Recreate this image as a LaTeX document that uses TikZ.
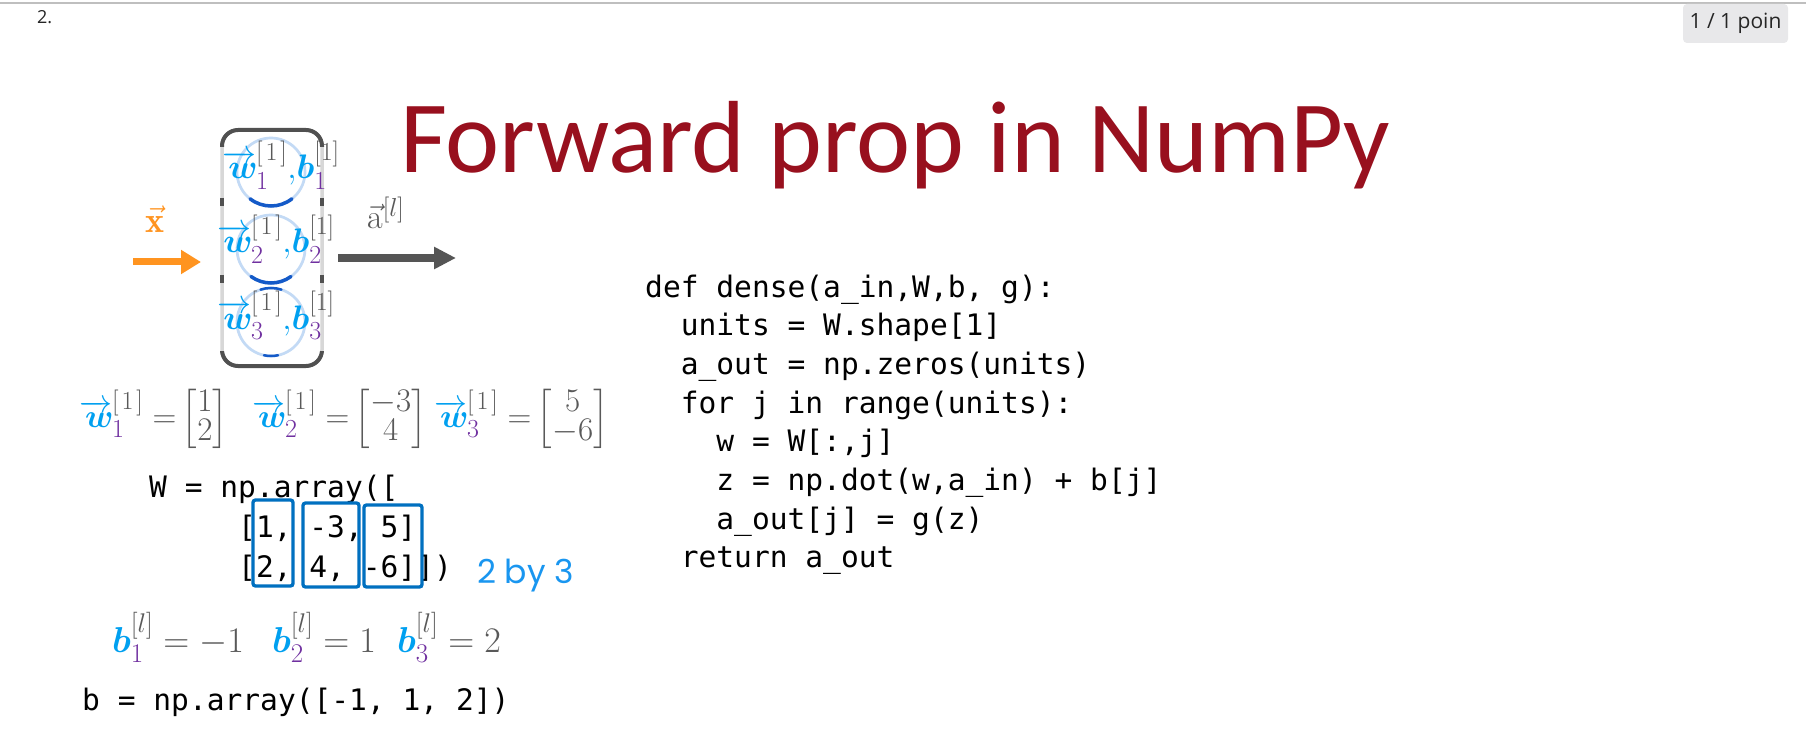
\RequirePackage{fix-cm}
\documentclass[tikz,border=0pt]{standalone}
\usepackage{amsmath,amssymb}
\usepackage{fontspec}
\usepackage{tikz}
\usetikzlibrary{arrows.meta,positioning}
\newfontfamily\titlefont{Carlito}
\newfontfamily\codefont{DejaVu Sans Mono}
\newfontfamily\uifont{Open Sans}
\newfontfamily\handfont{Poppins}
\definecolor{titlered}{RGB}{152,16,30}
\definecolor{wblue}{RGB}{0,160,240}
\definecolor{subpurple}{RGB}{112,48,160}
\definecolor{supgray}{RGB}{89,89,89}
\definecolor{xorange}{RGB}{255,148,32}
\definecolor{arrowgray}{RGB}{85,85,85}
\definecolor{ringblue}{RGB}{195,218,245}
\definecolor{shadeblue}{RGB}{20,90,200}
\definecolor{boxblue}{RGB}{0,112,192}
\definecolor{handblue}{RGB}{25,150,240}
\definecolor{layergray}{RGB}{215,215,215}
\definecolor{edgegray}{RGB}{80,80,80}
\definecolor{badgegray}{RGB}{232,232,234}

\DeclareMathSizes{33}{33}{26}{19}
\DeclareMathSizes{34}{34}{26}{20}
\DeclareMathSizes{36}{36}{27}{21}

\newcommand{\wvec}[1]{\textcolor{wblue}{\overrightarrow{\boldsymbol{w}\mkern-4mu}}_{\textcolor{subpurple}{#1}}^{[\mkern2mu 1\mkern2mu]}}
\newcommand{\bvar}[2]{\textcolor{wblue}{\boldsymbol{b}}_{\textcolor{subpurple}{#1}}^{[#2]}}

\begin{document}
\begin{tikzpicture}[x=1pt, y=1pt,
    unit/.style={circle, draw=ringblue, line width=2.7pt, minimum size=68pt, inner sep=0pt, outer sep=0pt},
    unitlabel/.style={anchor=base west, inner sep=0pt, text=supgray, font=\fontsize{34}{40}\selectfont},
    layerbox/.style={draw=layergray, line width=3.5pt, rounded corners=16pt, minimum width=100pt, minimum height=236pt, inner sep=0pt, outer sep=0pt},
    shadearc/.style={shadeblue, line width=3.5pt, line cap=round},
    inarrow/.style={xorange, line width=7pt, -{Triangle[length=20pt,width=23pt]}},
    outarrow/.style={arrowgray, line width=7.5pt, -{Triangle[length=22pt,width=21pt]}},
    mathrow/.style={anchor=base west, inner sep=0pt, text=supgray, font=\fontsize{33}{24}\selectfont},
    biasrow/.style={anchor=base west, inner sep=0pt, text=supgray, font=\fontsize{36}{38}\selectfont},
    codeline/.style={anchor=base west, inner sep=0pt, font=\codefont\fontsize{29.57}{34}\selectfont},
    colbox/.style={draw=boxblue, line width=3.3pt, rounded corners=2.5pt},
    badge/.style={fill=badgegray, rounded corners=4pt, minimum width=105pt, minimum height=39pt, inner sep=0pt, text=black!85, font=\uifont\fontsize{21}{24}\selectfont}]
\useasboundingbox (0,0) rectangle (1806,-735);
\fill[white] (0,0) rectangle (1806,-735);

% header strip
\draw[black!25, line width=1.5pt] (0,-3) -- (1806,-3);
\node[anchor=base west, inner sep=0pt, text=black!85, font=\uifont\fontsize{18}{20}\selectfont] (qnum) at (37,-24) {2.};
\node[badge] (score) at (1735.5,-23.5) {1 / 1 poin};

\node[anchor=base west, inner sep=0pt, text=titlered, font=\titlefont\fontsize{102.5}{110}\selectfont] (title) at (400,-173) {Forward prop in NumPy};

% layer with three units
\node[layerbox] (layer) at (272,-248) {};
\begin{scope}
  \clip (200,-100) rectangle (345,-147);
  \draw[edgegray, line width=4pt, rounded corners=16pt] (layer.south west) rectangle (layer.north east);
\end{scope}
\begin{scope}
  \clip (200,-351) rectangle (345,-400);
  \draw[edgegray, line width=4pt, rounded corners=16pt] (layer.south west) rectangle (layer.north east);
\end{scope}
\foreach \xx in {222,322}
  \foreach \yy in {198,275}
    \draw[edgegray, line width=4pt] (\xx,-\yy) -- (\xx,-\yy-8);

\foreach \i/\y in {1/172,2/249,3/322}
  \node[unit] (u\i) at (271,-\y) {};
\draw[shadearc] (u1.232) arc[start angle=232, end angle=308, radius=34pt];
\draw[shadearc] (u2.234) arc[start angle=234, end angle=306, radius=34pt];
\draw[shadearc, line width=2.5pt] (u3.72) arc[start angle=72, end angle=108, radius=34pt];
\draw[shadearc, line width=2.5pt] (u3.258) arc[start angle=258, end angle=282, radius=34pt];

\node[unitlabel] (lab1) at (222,-179) {$\wvec{1}\textcolor{wblue}{,}\bvar{1}{1}$};
\node[unitlabel] (lab2) at (217,-253) {$\wvec{2}\textcolor{wblue}{,}\bvar{2}{1}$};
\node[unitlabel] (lab3) at (217,-329) {$\wvec{3}\textcolor{wblue}{,}\bvar{3}{1}$};

% input and output
\node[text=xorange, font=\fontsize{36}{40}\selectfont] (xlab) at (155,-219) {$\vec{\mathbf{x}}$};
\coordinate (xin) at (133,-262);
\coordinate (xtip) at (201,-262);
\draw[inarrow] (xin) -- (xtip);

\node[anchor=base west, inner sep=0pt, text=supgray, font=\fontsize{34}{36}\selectfont] (alab) at (367,-229) {$\vec{\mathrm{a}}^{[l]}$};
\coordinate (aout) at (338,-258);
\coordinate (atip) at (456,-258);
\draw[outarrow] (aout) -- (atip);

% weight vectors
\node[mathrow] (w1) at (79,-427) {$\arraycolsep=2pt\wvec{1} = \mkern-2mu\begin{bmatrix}1\\2\end{bmatrix}$};
\node[mathrow] (w2) at (252,-427) {$\arraycolsep=2pt\wvec{2} = \mkern-2mu\begin{bmatrix}-3\\4\end{bmatrix}$};
\node[mathrow] (w3) at (434,-427) {$\arraycolsep=2pt\wvec{3} = \mkern-2mu\begin{bmatrix}5\\-6\end{bmatrix}$};

% W array
\node[codeline] (warr) at (149,-497) {W = np.array([};
\node[codeline] (wrow1) at (238,-537) {[1, -3, 5]};
\node[codeline] (wrow2) at (238,-577) {[2, 4, -6]])};
\draw[colbox] (253,-500) rectangle (293,-586);
\draw[colbox] (303,-503) rectangle (359,-587);
\draw[colbox] (364,-505) rectangle (422,-587);
\node[anchor=base west, inner sep=0pt, text=handblue, font=\handfont\fontsize{33}{36}\selectfont] (shape) at (477,-583) {2 by 3};

% biases
\node[biasrow] (b1) at (112,-652) {$\bvar{1}{l} = -1$};
\node[biasrow] (b2) at (272,-652) {$\bvar{2}{l} = 1$};
\node[biasrow] (b3) at (397,-652) {$\bvar{3}{l} = 2$};
\node[codeline] (barr) at (82,-710) {b = np.array([-1, 1, 2])};

% dense function
\node[codeline] (c1) at (645,-297) {def dense(a\_in,W,b, g):};
\node[codeline] (c2) at (680.6,-335.7) {units = W.shape[1]};
\node[codeline] (c3) at (680.6,-374.4) {a\_out = np.zeros(units)};
\node[codeline] (c4) at (680.6,-413.1) {for j in range(units):};
\node[codeline] (c5) at (716.2,-451.8) {w = W[:,j]};
\node[codeline] (c6) at (716.2,-490.5) {z = np.dot(w,a\_in) + b[j]};
\node[codeline] (c7) at (716.2,-529.2) {a\_out[j] = g(z)};
\node[codeline] (c8) at (680.6,-567.9) {return a\_out};
\end{tikzpicture}
\end{document}
